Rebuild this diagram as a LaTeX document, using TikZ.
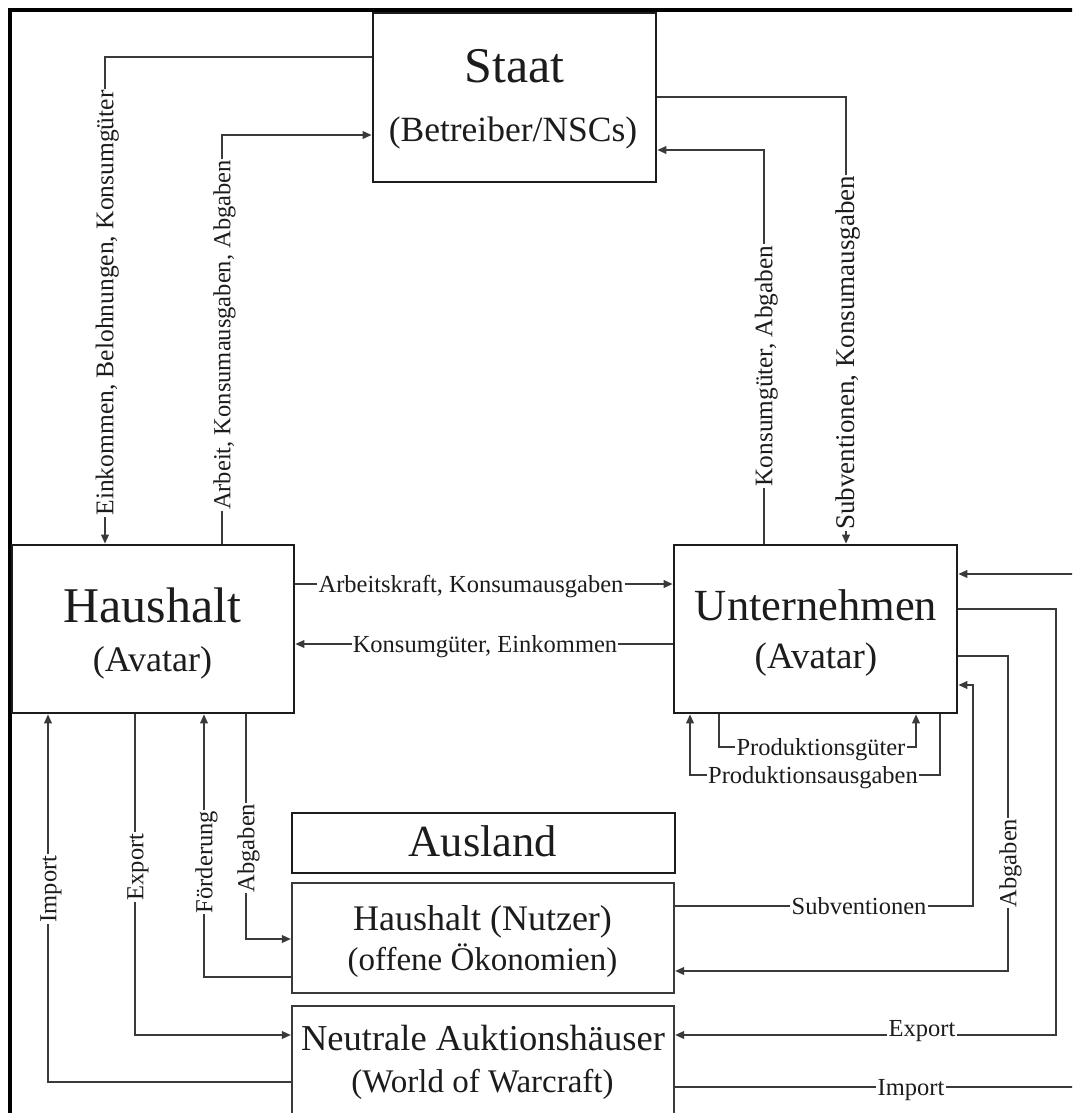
\documentclass[tikz,border=0pt]{standalone}
\usepackage{fontspec}
\setmainfont{Liberation Serif}
\usetikzlibrary{arrows.meta}
\definecolor{ink}{HTML}{1C1C1C}
\definecolor{wire}{HTML}{3A3A3A}
\begin{document}
\begin{tikzpicture}[x=1pt,y=-1pt,
  box/.style={draw=ink, fill=white, line width=2.6pt, inner sep=0pt},
  thinbox/.style={draw=wire, fill=white, line width=2.1pt, inner sep=0pt},
  conn/.style={draw=wire, line width=1.8pt},
  arr/.style={conn, -{Triangle[length=9pt,width=7.5pt]}},
  lbl/.style={fill=white, text=ink, inner xsep=1.2pt, inner ysep=0.8pt,
              text height=16.5pt, text depth=0pt,
              font=\fontsize{24.5}{26}\selectfont},
  baselbl/.style={lbl, anchor=base, text depth=5pt},
  title/.style={text=ink, anchor=base, inner sep=0pt}]

\useasboundingbox (0,0) rectangle (1072,1113);
\clip (0,0) rectangle (1072,1113);

% frame (left and top edges)
\draw[black, line width=3.4pt] (10,1120) -- (10,10) -- (1080,10);

% boxes
\node[box, minimum width=283, minimum height=169] (st) at (514.5,97.5) {};
\node[box, minimum width=282, minimum height=168] (hh) at (153,629) {};
\node[box, minimum width=283, minimum height=168] (un) at (815.5,629) {};
\node[box, minimum width=383, minimum height=60] (au) at (483.5,843) {};
\node[thinbox, minimum width=382, minimum height=110] (hn) at (483,938) {};
\node[thinbox, minimum width=382, minimum height=110] (ah) at (483,1061) {};

% box texts
\node[title, font=\fontsize{50}{50}\selectfont] (stA) at (514.5,83) {Staat};
\node[title, font=\fontsize{35.5}{36}\selectfont] (stB) at (513,142) {(Betreiber/NSCs)};
\node[title, font=\fontsize{50}{50}\selectfont] (hhA) at (152.5,622) {Haushalt};
\node[title, font=\fontsize{36}{36}\selectfont] (hhB) at (152.5,671) {(Avatar)};
\node[title, font=\fontsize{44.5}{45}\selectfont] (unA) at (816,620) {Unternehmen};
\node[title, font=\fontsize{37}{37}\selectfont] (unB) at (816,668) {(Avatar)};
\node[title, font=\fontsize{44.5}{45}\selectfont] (auA) at (483,856) {Ausland};
\node[title, font=\fontsize{36}{36}\selectfont] (hnA) at (482.5,930) {Haushalt (Nutzer)};
\node[title, font=\fontsize{33}{33}\selectfont] (hnB) at (482.5,970) {(offene Ökonomien)};
\node[title, font=\fontsize{36.5}{37}\selectfont] (ahA) at (483,1050) {Neutrale Auktionshäuser};
\node[title, font=\fontsize{33}{33}\selectfont] (ahB) at (482.5,1092) {(World of Warcraft)};

% free ends at the right edge
\coordinate (inR) at (1080,574);
\coordinate (outR) at (1080,1087);

% Staat <-> Haushalt
\draw[arr] (st.west |- 0,57) -| (hh.north -| 105,0);
\draw[arr] (hh.north -| 222,0) |- (st.west |- 0,135);
% Staat <-> Unternehmen
\draw[arr] (st.east |- 0,97) -| (un.north -| 846,0);
\draw[arr] (un.north -| 764,0) |- (st.east |- 0,150);
% Haushalt <-> Unternehmen
\draw[arr] (hh.east |- 0,584) -- (un.west |- 0,584);
\draw[arr] (un.west |- 0,644) -- (hh.east |- 0,644);
% Unternehmen loops
\draw[arr] (un.south -| 719,0) |- (916,747) -- (un.south -| 916,0);
\draw[arr] (un.south -| 940,0) |- (690,775) -- (un.south -| 690,0);
% Unternehmen right side
\draw[arr] (inR) -- (un.east |- 0,574);
\draw[arr] (un.east |- 0,609) -| (1056,1035) -- (ah.east |- 0,1035);
\draw[arr] (un.east |- 0,656) -| (1008,971) -- (hn.east |- 0,971);
\draw[arr] (hn.east |- 0,906) -| (973,685) -- (un.east |- 0,685);
\draw[conn] (ah.east |- 0,1087) -- (outR);
% Haushalt bottom side
\draw[arr] (ah.west |- 0,1082) -| (hh.south -| 48,0);
\draw[arr] (hh.south -| 135,0) |- (ah.west |- 0,1035);
\draw[arr] (hn.west |- 0,977) -| (hh.south -| 204,0);
\draw[arr] (hh.south -| 246,0) |- (hn.west |- 0,939);

% connector labels
\node[lbl, rotate=90, font=\fontsize{25.5}{27}\selectfont] (l1) at (105,303) {Einkommen, Belohnungen, Konsumgüter};
\node[lbl, rotate=90] (l2) at (222,335) {Arbeit, Konsumausgaben, Abgaben};
\node[lbl, rotate=90, font=\fontsize{27}{28}\selectfont] (l3) at (846,353) {Subventionen, Konsumausgaben};
\node[lbl, rotate=90, font=\fontsize{25.3}{27}\selectfont] (l4) at (764,366) {Konsumgüter, Abgaben};
\node[lbl] (l5) at (471,584) {Arbeitskraft, Konsumausgaben};
\node[lbl] (l6) at (485,644) {Konsumgüter, Einkommen};
\node[lbl] (l7) at (821,747) {Produktionsgüter};
\node[lbl] (l8) at (813,775) {Produktionsausgaben};
\node[lbl] (l9) at (859,906) {Subventionen};
\node[lbl, rotate=90] (l10) at (1008,863) {Abgaben};
\node[baselbl] (l11) at (922,1036) {Export};
\node[lbl] (l12) at (911,1087) {Import};
\node[lbl, rotate=90] (l13) at (48,889) {Import};
\node[lbl, rotate=90] (l14) at (135,867) {Export};
\node[lbl, rotate=90] (l15) at (204,862) {Förderung};
\node[lbl, rotate=90] (l16) at (246,848) {Abgaben};
\end{tikzpicture}
\end{document}
